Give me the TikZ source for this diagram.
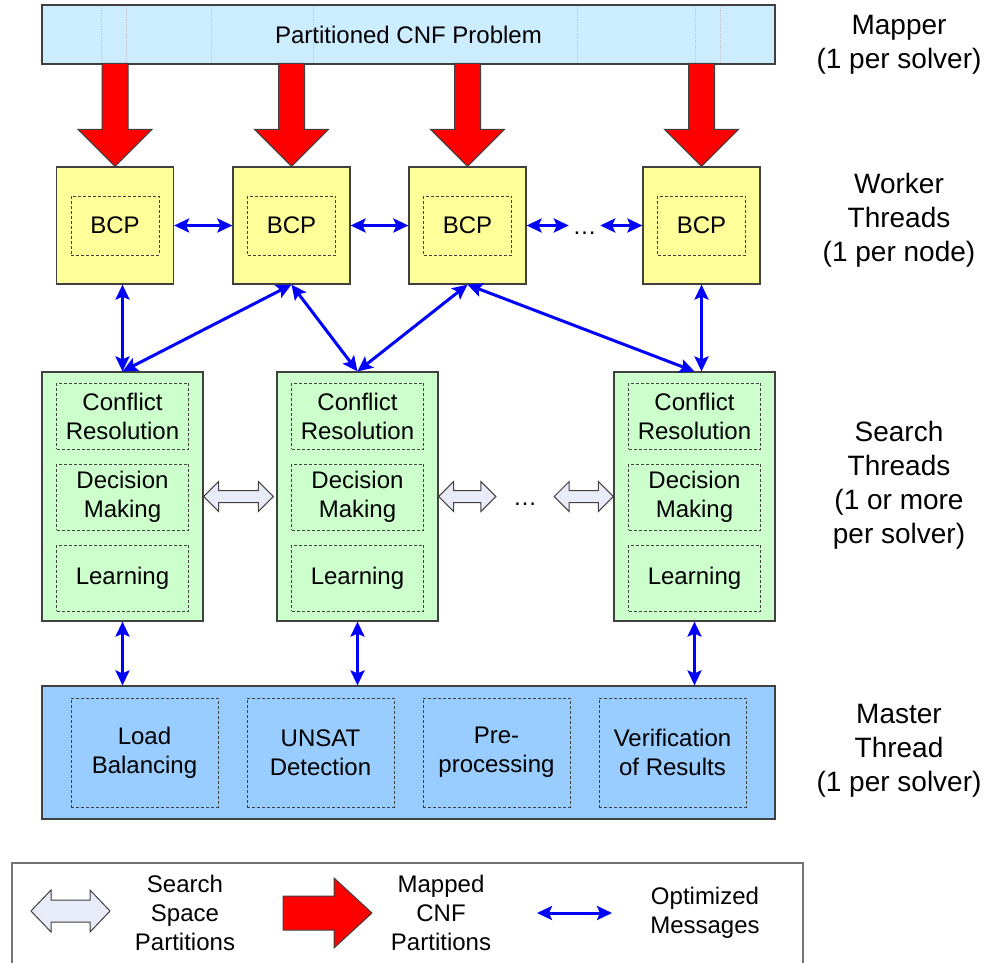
\documentclass[tikz,border=0pt]{standalone}
\usepackage{fontspec}
\setmainfont{Liberation Sans}
\usepackage{xcolor}
\usepackage{tikz}
\usetikzlibrary{positioning, arrows.meta, calc}
\definecolor{barblue}{RGB}{204,236,255}
\definecolor{bcpyellow}{RGB}{255,255,153}
\definecolor{srchgreen}{RGB}{204,255,204}
\definecolor{mstrblue}{RGB}{153,204,255}
\definecolor{sspgray}{RGB}{232,236,248}
\definecolor{edgegray}{RGB}{64,64,64}

% red block arrow ending on top of a worker box
\newcommand{\maparrow}[1]{%
  \draw[mapped] (#1.north) -- ++(-37,-37) -- ++(24,0) -- ++(0,-66) -- ++(26,0) -- ++(0,66) -- ++(24,0) -- cycle;}
% hollow double arrow: left tip, right tip, head length, half height, half shaft
\newcommand{\ssparrow}[5]{%
  \draw[sspace] (#1) -- ++(#3,-#4) -- ++(0,#4-#5) -- ($(#2)+(-#3,-#5)$) -- ++(0,#5-#4) -- (#2)
    -- ++(-#3,#4) -- ++(0,#5-#4) -- ($(#1)+(#3,#5)$) -- ++(0,#4-#5) -- cycle;}

\begin{document}
\begin{tikzpicture}[x=1pt,y=-1pt,
  txt/.style={font=\fontsize{24}{29}\selectfont, align=center},
  side/.style={font=\fontsize{28}{34}\selectfont, align=center},
  box/.style={draw=edgegray, line width=1.2pt, inner sep=0pt},
  part/.style={draw=edgegray, line width=1pt, dash pattern=on 3pt off 2pt, inner sep=0pt, txt},
  msg/.style={{Stealth[length=15pt,width=14pt,inset=3pt]}-{Stealth[length=15pt,width=14pt,inset=3pt]}, line width=3pt, blue},
  mapped/.style={fill=red, draw=edgegray, line width=1pt},
  sspace/.style={fill=sspgray, draw=edgegray, line width=1pt}]
  \useasboundingbox (0,0) rectangle (998,963);

  % mapper
  \node[box, fill=barblue, minimum width=733pt, minimum height=59pt, txt] (bar) at (408.5,34.5) {Partitioned CNF Problem};
  \foreach \x in {101,126,211,313,577,695,720}
    \draw[gray!45, densely dotted, line width=0.8pt] (\x,6) -- (\x,63);

  % worker threads
  \foreach \i/\x in {1/115,2/291.5,3/467.5,4/701.5} {
    \node[box, fill=bcpyellow, minimum size=117pt] (bcp\i) at (\x,225.5) {};
    \node[part, minimum width=88pt, minimum height=59pt] (bcpin\i) at (bcp\i) {BCP};
    \maparrow{bcp\i}
  }
  \node[txt, inner xsep=3.5pt, inner ysep=0pt] (wdots) at (584.5,233) {…};
  \draw[msg] (bcp1) -- (bcp2);
  \draw[msg] (bcp2) -- (bcp3);
  \draw[msg] (bcp3.east) -- (wdots.west |- bcp3.east);
  \draw[msg] (wdots.east |- bcp4.west) -- (bcp4.west);

  % search threads
  \foreach \i/\x in {1/122.5,2/357.5,3/694.5} {
    \node[box, fill=srchgreen, minimum width=161pt, minimum height=249pt] (srch\i) at (\x,496.5) {};
    \node[part, minimum width=132pt, minimum height=66pt] (conf\i) at (\x,416) {Conflict\\Resolution};
    \node[part, minimum width=132pt, minimum height=66pt] (dec\i) at (\x,497) {Decision\\Making};
    \node[part, minimum width=132pt, minimum height=66pt] (lrn\i) at (\x,578) {Learning};
  }
  \node[txt, inner xsep=17pt, inner ysep=0pt] (sdots) at (525,504) {…};
  \coordinate (ssr) at ($(srch2.west)+(-3,0)$);
  \ssparrow{srch1.east}{ssr}{15}{15}{6}
  \coordinate (sdl) at (sdots.west |- srch2.east);
  \coordinate (sdr) at (sdots.east |- srch3.west);
  \ssparrow{srch2.east}{sdl}{15}{15}{6}
  \ssparrow{sdr}{srch3.west}{15}{15}{6}

  \draw[msg] (bcp1.south -| srch1.north) -- (srch1.north);
  \draw[msg] (bcp2.south) -- (srch1.north);
  \draw[msg] (bcp2.south) -- (srch2.north);
  \draw[msg] (bcp3.south) -- (srch2.north);
  \draw[msg] (bcp3.south) -- (srch3.north);
  \draw[msg] (bcp4.south) -- (bcp4.south |- srch3.north);

  % master thread
  \node[box, fill=mstrblue, minimum width=733pt, minimum height=133pt] (mstr) at (408.5,752.5) {};
  \foreach \n/\x/\t in {load/144.5/Load\\Balancing, unsat/320.5/UNSAT\\Detection,
      prep/496.5/Pre-\\processing, verif/672.5/Verification\\of Results}
    \node[part, minimum width=147pt, minimum height=109pt] (\n) at (\x,752.5) {\t};
  \foreach \i in {1,2,3}
    \draw[msg] (srch\i.south) -- (srch\i.south |- mstr.north);

  % right-hand labels
  \node[side] (lmap) at (899,45) {Mapper\\(1 per solver)};
  \node[side] (lwork) at (899,220) {Worker\\Threads\\(1 per node)};
  \node[side] (lsrch) at (899,485) {Search\\Threads\\(1 or more\\per solver)};
  \node[side] (lmstr) at (899,751) {Master\\Thread\\(1 per solver)};

  % legend
  \draw[draw=black!55, line width=1.5pt] (12,863) rectangle (803,990);
  \coordinate (lgl) at (31,911);
  \coordinate (lgr) at (110,911);
  \ssparrow{lgl}{lgr}{20}{21}{11}
  \node[txt] (lgss) at (185,913) {Search\\Space\\Partitions};
  \coordinate (lgtip) at (372,913);
  \draw[mapped] (lgtip) -- ++(-38,-35) -- ++(0,18) -- ++(-51,0) -- ++(0,34) -- ++(51,0) -- ++(0,18) -- cycle;
  \node[txt] (lgmap) at (441,913) {Mapped\\CNF\\Partitions};
  \coordinate (lgml) at (537,913);
  \coordinate (lgmr) at (612,913);
  \draw[msg] (lgml) -- (lgmr);
  \node[txt] (lgmsg) at (705,913) {Optimized\\Messages};
\end{tikzpicture}
\end{document}
